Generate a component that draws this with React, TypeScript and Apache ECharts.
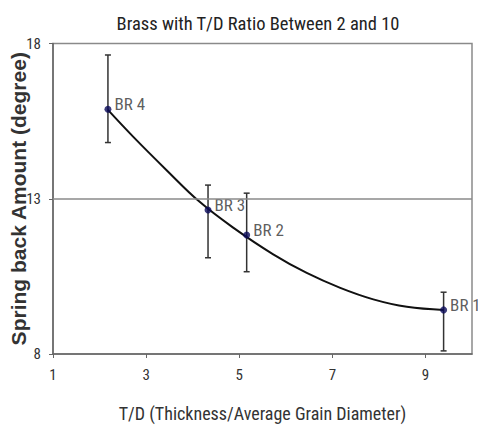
import React, { useEffect, useRef } from "react";
import * as echarts from "echarts";

const pointNames = ["BR 4", "BR 3", "BR 2", "BR 1"];
const tdRatio = [2.18, 4.33, 5.16, 9.39];
const springBack = [15.88, 12.64, 11.83, 9.42];
const errLow = [14.81, 11.1, 10.65, 8.1];
const errHigh = [17.63, 13.44, 13.18, 9.99];

const trendX = [2.18, 2.72, 3.44, 4.15, 4.87, 5.73, 6.45, 7.17, 7.88, 8.6, 9.39];
const trendY = [15.86, 15.0, 13.92, 12.9, 12.07, 11.21, 10.61, 10.13, 9.76, 9.52, 9.42];

const xTicks = [1, 3, 5, 7, 9];
const yTicks = [8, 13, 18];

const FONT = "Roboto Condensed, Liberation Sans, Arial, sans-serif";
const FONT_Y = "Liberation Sans, Arial, sans-serif";

export default function App() {
  const ref = useRef<HTMLDivElement>(null);
  useEffect(() => {
    if (!ref.current) return;
    const chart = echarts.init(ref.current, undefined, { renderer: "svg" });
    const errData = tdRatio.map((x, i) => [x, errLow[i], errHigh[i]]);
    chart.setOption({
      animation: false,
      backgroundColor: "#fff",
      title: {
        text: "Brass with T/D Ratio Between 2 and 10",
        left: 253,
        textAlign: "center",
        top: 9,
        textStyle: { fontFamily: FONT, fontSize: 18.5, fontWeight: "normal", color: "#222" },
      },
      grid: {
        left: 53,
        right: 6,
        top: 43.5,
        bottom: 72,
        containLabel: false,
        outerBoundsMode: "none",
        show: true,
        borderColor: "#8a8a8a",
        borderWidth: 1.5,
        backgroundColor: "transparent",
      },
      xAxis: {
        type: "value",
        min: 1,
        max: 10,
        name: "T/D (Thickness/Average Grain Diameter)",
        nameLocation: "middle",
        nameGap: 50,
        nameMoveOverlap: false,
        nameTextStyle: { fontFamily: FONT, fontSize: 18, color: "#333" },
        axisLine: { lineStyle: { color: "#666", width: 1.5 } },
        axisTick: { show: true, customValues: xTicks, length: 4, lineStyle: { color: "#666" } },
        axisLabel: { customValues: xTicks, fontFamily: FONT, fontSize: 15, color: "#333", margin: 13 },
        splitLine: { show: false },
      },
      yAxis: {
        type: "value",
        min: 8,
        max: 18,
        name: "Spring back Amount (degree)",
        nameLocation: "middle",
        nameGap: 24,
        nameMoveOverlap: false,
        nameTextStyle: { fontFamily: FONT_Y, fontSize: 21, fontWeight: "bold", color: "#333" },
        axisLine: { show: true, lineStyle: { color: "#666", width: 1.5 } },
        axisTick: { show: true, customValues: yTicks, length: 4, lineStyle: { color: "#666" } },
        axisLabel: { customValues: yTicks, fontFamily: FONT, fontSize: 15, color: "#333", margin: 12 },
        splitLine: { show: false },
      },
      series: [
        {
          type: "line",
          data: [],
          markLine: {
            silent: true,
            symbol: "none",
            label: { show: false },
            lineStyle: { color: "#8a8a8a", width: 1.5, type: "solid" },
            data: [{ yAxis: 13 }],
          },
        },
        {
          type: "line",
          smooth: 0.4,
          showSymbol: false,
          symbol: "none",
          data: trendX.map((x, i) => [x, trendY[i]]),
          lineStyle: { color: "#111", width: 2 },
          z: 3,
        },
        {
          type: "custom",
          data: errData,
          z: 2,
          renderItem: (params: any, api: any) => {
            const x = api.value(0);
            const lo = api.coord([x, api.value(1)]);
            const hi = api.coord([x, api.value(2)]);
            const w = 3;
            const style = { stroke: "#333", lineWidth: 1.5 };
            return {
              type: "group",
              children: [
                { type: "line", shape: { x1: lo[0], y1: lo[1], x2: hi[0], y2: hi[1] }, style },
                { type: "line", shape: { x1: lo[0] - w, y1: lo[1], x2: lo[0] + w, y2: lo[1] }, style },
                { type: "line", shape: { x1: hi[0] - w, y1: hi[1], x2: hi[0] + w, y2: hi[1] }, style },
              ],
            };
          },
        },
        {
          type: "scatter",
          data: tdRatio.map((x, i) => ({ value: [x, springBack[i]], name: pointNames[i] })),
          symbolSize: 7,
          itemStyle: { color: "#0a0a5a" },
          z: 4,
          label: {
            show: true,
            position: "right",
            distance: 3,
            offset: [0, -5],
            formatter: (p: any) => p.name,
            fontFamily: FONT,
            fontSize: 17,
            color: "#333",
          },
        },
      ],
    });
    return () => chart.dispose();
  }, []);
  return <div ref={ref} style={{ width: 478, height: 426, position: "absolute", left: 0, top: 0 }} />;
}
